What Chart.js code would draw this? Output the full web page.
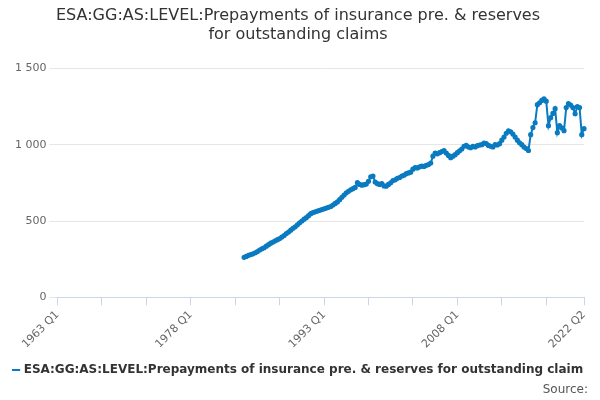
<!DOCTYPE html>
<html>
<head>
<meta charset="utf-8">
<script src="https://cdn.jsdelivr.net/npm/chart.js@4"></script>
<style>
  body { margin: 0; background: #fff; font-family: "DejaVu Sans", sans-serif; }
  #wrap { position: relative; width: 600px; height: 400px; }
  #src { position: absolute; right: 12px; bottom: 4px; font-size: 12px; color: #555; }
</style>
</head>
<body>
<div id="wrap">
  <canvas id="c" width="600" height="400"></canvas>
  <div id="src">Source:</div>
</div>
<script>
const seriesName = 'ESA:GG:AS:LEVEL:Prepayments of insurance pre. & reserves for outstanding claims';
const firstYear = 1963;
const lastYear = 2022;
const lastQuarter = 2;
const shownLabels = ['1963 Q1', '1978 Q1', '1993 Q1', '2008 Q1', '2022 Q2'];

// quarterly values from 1984 Q1 to 2022 Q2
const values = [
  262, 268, 275, 280, 285, 292, 300, 310, 318, 325, 335,
  345, 355, 362, 370, 378, 385, 395, 405, 418, 428,
  440, 452, 462, 475, 488, 500, 512, 522, 535, 548,
  555, 560, 565, 570, 575, 580, 585, 590, 595, 605,
  615, 625, 640, 655, 670, 685, 695, 705, 712, 720,
  752, 740, 735, 738, 742, 760, 790, 795, 755, 745,
  740, 745, 730, 728, 740, 750, 765, 770, 780, 785,
  795, 800, 810, 815, 820, 840, 850, 848, 855, 860,
  858, 865, 870, 880, 925, 945, 940, 948, 955, 962,
  945, 930, 915, 925, 935, 948, 960, 972, 990, 995,
  985, 980, 990, 985, 994, 998, 1000, 1010, 1008, 995,
  990, 985, 1000, 998, 1007, 1030, 1050, 1075, 1090, 1085,
  1070, 1050, 1030, 1013, 1000, 985, 975, 962, 1066, 1112,
  1144, 1262, 1275, 1290, 1301, 1285, 1125, 1177, 1205, 1236,
  1079, 1125, 1110, 1092, 1243, 1269, 1260, 1243, 1203, 1249,
  1243, 1066, 1105
];

const labels = [];
for (let y = firstYear; y <= lastYear; y++) {
  for (let q = 1; q <= 4; q++) {
    if (y === lastYear && q > lastQuarter) break;
    labels.push(y + ' Q' + q);
  }
}
const data = new Array(labels.length - values.length).fill(null).concat(values);

new Chart(document.getElementById('c'), {
  type: 'line',
  data: {
    labels: labels,
    datasets: [{
      label: seriesName,
      data: data,
      borderColor: '#0a7bc1',
      backgroundColor: '#0a7bc1',
      borderWidth: 2,
      pointRadius: 1.6,
      pointHoverRadius: 3,
      tension: 0
    }]
  },
  options: {
    responsive: false,
    animation: false,
    layout: { padding: { left: 12, right: 16, bottom: 14 } },
    plugins: {
      title: {
        display: true,
        text: ['ESA:GG:AS:LEVEL:Prepayments of insurance pre. & reserves', 'for outstanding claims'],
        color: '#333',
        font: { size: 16, weight: 'normal', family: 'DejaVu Sans' },
        padding: { top: 6, bottom: 24 }
      },
      legend: {
        position: 'bottom',
        labels: {
          color: '#333',
          font: { size: 12, weight: 'bold', family: 'DejaVu Sans' },
          usePointStyle: true,
          pointStyle: 'line',
          boxWidth: 14
        }
      }
    },
    scales: {
      x: {
        grid: { display: true, drawOnChartArea: false, color: '#ccd6eb', tickLength: 8 },
        border: { color: '#ccd6eb' },
        ticks: {
          autoSkip: false,
          maxRotation: 45,
          minRotation: 45,
          color: '#666',
          font: { size: 11, family: 'DejaVu Sans' },
          callback: function (v, i) {
            const l = labels[i];
            if (shownLabels.includes(l)) return l;
            const y = parseInt(l);
            if (l.endsWith('Q1') && (y - firstYear) % 5 === 0) return '';
            return null;
          }
        }
      },
      y: {
        min: 0,
        max: 1500,
        grid: { color: '#e6e6e6' },
        border: { display: false },
        ticks: {
          stepSize: 500,
          color: '#666',
          font: { size: 11, family: 'DejaVu Sans' },
          callback: v => v >= 1000 ? String(v).replace(/\B(?=(\d{3})+(?!\d))/g, ' ') : String(v)
        }
      }
    }
  }
});
</script>
</body>
</html>
